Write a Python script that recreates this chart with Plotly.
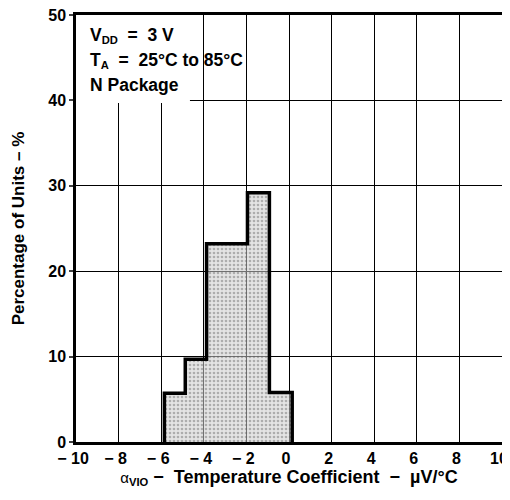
import plotly.graph_objects as go

# histogram bins (temperature coefficient, uV/degC) and percentage of units
bin_edges = [-5.85, -4.87, -3.87, -2.9, -1.95, -0.92, 0.15]
percent = [5.7, 9.7, 23.2, 23.2, 29.2, 5.8]

x_ticks = [-10, -8, -6, -4, -2, 0, 2, 4, 6, 8, 10]
x_ticktext = ["\u2212 10", "\u2212 8", "\u2212 6", "\u2212 4", "\u2212 2", "0", "2", "4", "6", "8", "10"]
y_ticks = [0, 10, 20, 30, 40, 50]

centers = [(a + b) / 2 for a, b in zip(bin_edges[:-1], bin_edges[1:])]
widths = [b - a for a, b in zip(bin_edges[:-1], bin_edges[1:])]

# step outline around the whole histogram
step_x = [bin_edges[0]]
step_y = [0]
for i, p in enumerate(percent):
    step_x += [bin_edges[i], bin_edges[i + 1]]
    step_y += [p, p]
step_x.append(bin_edges[-1])
step_y.append(0)

fig = go.Figure()
fig.add_trace(
    go.Bar(
        x=centers,
        y=percent,
        width=widths,
        marker=dict(
            color="rgba(0,0,0,0)",
            line=dict(width=0),
            pattern=dict(
                shape=".",
                fgcolor="rgba(90,90,90,0.8)",
                bgcolor="rgba(205,205,205,0.55)",
                size=4,
                solidity=0.35,
            ),
        ),
        showlegend=False,
    )
)
fig.add_trace(
    go.Scatter(
        x=step_x,
        y=step_y,
        mode="lines",
        line=dict(color="black", width=3.5),
        showlegend=False,
    )
)

# white box behind the condition text hides the grid there
fig.add_shape(
    type="rect", xref="x", yref="y", x0=-10, x1=-4.65, y0=39.7, y1=50,
    fillcolor="white", line=dict(width=0), layer="between",
)

notes = [
    "V<span style='font-size:16px'><sub>DD</sub></span>  =  3 V",
    "T<span style='font-size:16px'><sub>A</sub></span>  =  25\u00b0C to 85\u00b0C",
    "N Package",
]
note_y = [47.6, 44.7, 41.8]
for t, yy in zip(notes, note_y):
    fig.add_annotation(
        x=-9.45, y=yy, xref="x", yref="y", text=t,
        showarrow=False, xanchor="left", yanchor="middle",
        font=dict(size=17.5, color="black", weight="bold"),
    )

fig.update_xaxes(
    range=[-10, 10],
    tickvals=x_ticks,
    ticktext=x_ticktext,
    tickfont=dict(size=16, weight="bold"),
    ticklabeloverflow="allow",
    ticklabelshift=-3,
    showgrid=True,
    gridcolor="black",
    gridwidth=1.3,
    showline=True,
    linecolor="black",
    linewidth=2.5,
    mirror=True,
    ticks="",
    zeroline=False,
    automargin=False,
    title=dict(
        text="<span style='font-size:15px;font-weight:normal'>\u03b1</span><span style='font-size:16px'><sub>VIO</sub></span> \u2212  Temperature Coefficient  \u2212  \u00b5V/\u00b0C",
        standoff=5,
        font=dict(size=18, weight="bold"),
    ),
)
fig.update_yaxes(
    range=[0, 50],
    tickvals=y_ticks,
    tickfont=dict(size=16, weight="bold"),
    ticklabeloverflow="allow",
    showgrid=True,
    gridcolor="black",
    gridwidth=1.3,
    showline=True,
    linecolor="black",
    linewidth=2.5,
    mirror=True,
    ticks="outside",
    ticklen=4,
    tickwidth=1.5,
    zeroline=False,
    automargin=False,
    title=dict(text="Percentage of Units \u2013 %", standoff=20, font=dict(size=17, weight="bold")),
)
# page body adds an 8 px margin on every side, so keep the figure inside the window
fig.update_layout(
    width=502,
    height=482,
    margin=dict(l=68, r=8, t=7, b=48),
    plot_bgcolor="white",
    paper_bgcolor="white",
    font=dict(family="Liberation Sans, Arial, sans-serif", size=16, color="black", weight="bold"),
    bargap=0,
)
fig.write_html("out.html")
